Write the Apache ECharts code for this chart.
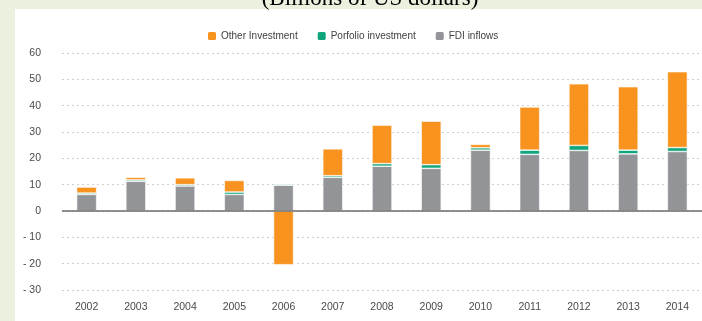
<!DOCTYPE html>
<html>
<head>
<meta charset="utf-8">
<script src="https://cdn.jsdelivr.net/npm/echarts@6/dist/echarts.min.js"></script>
<style>
html,body{margin:0;padding:0;background:#EAF1DF;}
#chart{width:702px;height:321px;}
</style>
</head>
<body>
<div id="chart"></div>
<script>
var years = ['2002','2003','2004','2005','2006','2007','2008','2009','2010','2011','2012','2013','2014'];
var fdiInflows = [6.3, 11.3, 9.5, 6.3, 9.8, 12.8, 17.0, 16.2, 23.1, 21.5, 23.0, 21.7, 22.6];
var portfolioInvestment = [0.5, 0.5, 0.5, 0.9, 0.4, 0.6, 1.0, 1.4, 0.9, 1.6, 1.9, 1.4, 1.5];
var otherInvestment = [2.3, 1.0, 2.6, 4.4, -20.4, 10.2, 14.6, 16.5, 1.3, 16.4, 23.4, 24.1, 28.8];
var yTicks = {min: -30, max: 60, interval: 10};

var font = "'Liberation Sans Narrow', 'Arial Narrow', 'Liberation Sans', sans-serif";
var chart = echarts.init(document.getElementById('chart'));
var border = {borderColor: '#ffffff', borderWidth: 0.6};
chart.setOption({
  backgroundColor: '#EAF1DF',
  animation: false,
  graphic: [
    {type: 'rect', shape: {x: 15, y: 9, width: 700, height: 320}, style: {fill: '#ffffff'}, z: -10},
    {type: 'text', x: 370, y: 10, style: {text: '(Billions of US dollars)', font: '23px "Liberation Serif", serif', fill: '#000', textAlign: 'center', textVerticalAlign: 'bottom'}, z: -5}
  ],
  legend: {
    data: ['Other Investment', 'Porfolio investment', 'FDI inflows'],
    left: 201, top: 25,
    itemWidth: 10, itemHeight: 10, itemGap: 18,
    icon: 'roundRect',
    textStyle: {fontFamily: font, fontSize: 10, color: '#3f3f3f', padding: [0,0,0,-1]}
  },
  grid: {left: 62, right: -12, top: 53, height: 237, containLabel: false},
  xAxis: {
    type: 'category', data: years,
    axisLine: {show: false}, axisTick: {show: false},
    axisLabel: {fontFamily: font, fontSize: 10.5, color: '#4a4a4a', margin: 12}
  },
  yAxis: {
    type: 'value', min: yTicks.min, max: yTicks.max, interval: yTicks.interval,
    axisLine: {show: false}, axisTick: {show: false},
    axisLabel: {fontFamily: font, fontSize: 10.5, color: '#4a4a4a', margin: 21,
      formatter: function(v){ return v < 0 ? '- ' + Math.abs(v) : String(v); }},
    splitLine: {lineStyle: {color: '#cfcfcf', type: [2, 3], width: 1}}
  },
  series: [
    {name: 'FDI inflows', type: 'bar', stack: 'a', data: fdiInflows, barWidth: 20,
     itemStyle: Object.assign({color: '#929497'}, border),
     markLine: {silent: true, symbol: 'none', label: {show: false},
       lineStyle: {color: '#6b6b6b', type: 'solid', width: 1.5},
       data: [{yAxis: 0}]}},
    {name: 'Porfolio investment', type: 'bar', stack: 'a', data: portfolioInvestment, barWidth: 20,
     itemStyle: Object.assign({color: '#10A57C'}, border)},
    {name: 'Other Investment', type: 'bar', stack: 'a', data: otherInvestment, barWidth: 20,
     itemStyle: Object.assign({color: '#F7931E'}, border)}
  ]
});
</script>
</body>
</html>
